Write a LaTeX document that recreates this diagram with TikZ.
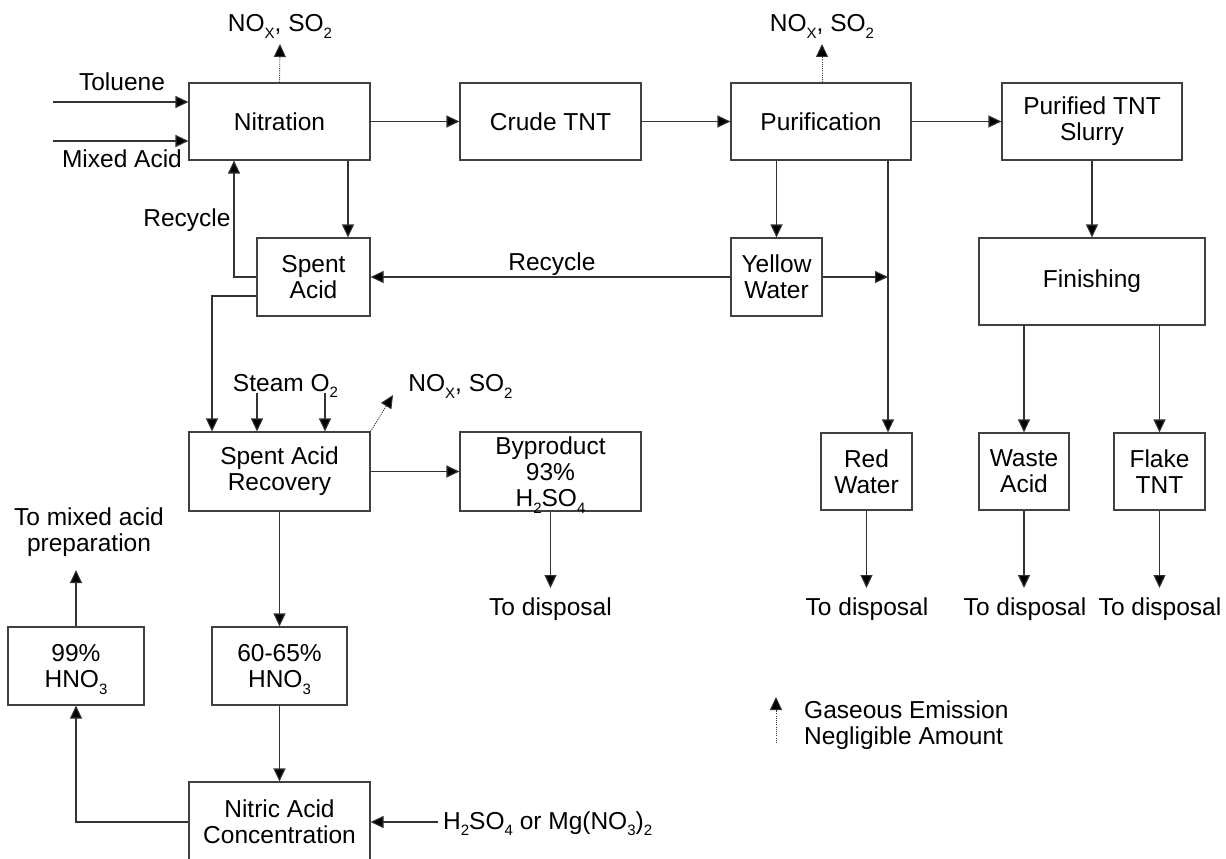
\documentclass[tikz,border=0pt]{standalone}
\usepackage{fontspec}
\setmainfont{Liberation Sans}
\usetikzlibrary{arrows.meta}
\newcommand\sbs[1]{\raisebox{-0.28em}[0pt][0pt]{\fontsize{15}{15}\selectfont #1}}
\begin{document}
\begin{tikzpicture}[x=1pt,y=-1pt,
  font=\fontsize{24.5}{26}\selectfont,
  box/.style={draw=black!75, line width=1.1pt, align=center, inner sep=0pt},
  sz/.style 2 args={minimum width=#1pt, minimum height=#2pt},
  arr/.style={draw=black!80, line width=1.1pt, -{Triangle[length=13pt,width=12pt,fill=black]}},
  emis/.style={draw=black!80, line width=0.9pt, dash pattern=on 1pt off 1.2pt, -{Triangle[length=13pt,width=12pt,fill=black]}},
  lbl/.style={inner sep=0pt, align=center}]
\clip (0,0) rectangle (1226,859);
\fill[white] (0,0) rectangle (1226,859);

% boxes
\node[box,sz={181}{77}] (nit) at (279.5,121.5) {Nitration};
\node[box,sz={181}{77}] (crude) at (550.5,121.5) {Crude TNT};
\node[box,sz={180}{77}] (pur) at (821,121.5) {Purification};
\node[box,sz={180}{77}] (slurry) at (1092,121.5) {Purified TNT\\Slurry};
\node[box,sz={113}{78}] (spent) at (313.5,277) {Spent\\Acid};
\node[box,sz={91}{78}] (yellow) at (776.5,277) {Yellow\\Water};
\node[box,sz={226}{87}] (finish) at (1092,281.5) {Finishing};
\node[box,sz={181}{79}] (sar) at (279.5,471.5) {Spent Acid\\Recovery};
\node[box,sz={181}{79}] (byp) at (550.5,471.5) {Byproduct\\93\%\\H\sbs{2}SO\sbs{4}};
\node[box,sz={91}{77}] (red) at (866.5,471.5) {Red\\Water};
\node[box,sz={90}{77}] (waste) at (1024,471.5) {Waste\\Acid};
\node[box,sz={91}{77}] (flake) at (1159.5,471.5) {Flake\\TNT};
\node[box,sz={135}{78}] (h6065) at (279.5,666) {60-65\%\\HNO\sbs{3}};
\node[box,sz={136}{78}] (h99) at (76,666) {99\%\\HNO\sbs{3}};
\node[box,sz={181}{80}] (nac) at (279.5,822) {Nitric Acid\\Concentration};

% labels
\node[lbl] (tol) at (122,82) {Toluene};
\node[lbl] (mix) at (122,159) {Mixed Acid};
\node[lbl] (rec1) at (187,220.5) {Recycle};
\node[lbl] (rec2) at (552,264) {Recycle};
\node[lbl,anchor=base] (nox1) at (280,32) {NO\sbs{X}, SO\sbs{2}};
\node[lbl,anchor=base] (nox2) at (822,32) {NO\sbs{X}, SO\sbs{2}};
\node[lbl,anchor=base] (steam) at (285.5,391) {Steam O\sbs{2}};
\node[lbl,anchor=base] (nox3) at (460.5,391.5) {NO\sbs{X}, SO\sbs{2}};
\node[lbl,anchor=base] (dis1) at (550.5,615.6) {To disposal};
\node[lbl,anchor=base] (dis2) at (867,615.6) {To disposal};
\node[lbl,anchor=base] (dis3) at (1025,615.6) {To disposal};
\node[lbl,anchor=base] (dis4) at (1160,615.6) {To disposal};
\node[lbl] (mixprep) at (89,532) {To mixed acid\\preparation};
\node[lbl,anchor=base west] (addit) at (443,829) {H\sbs{2}SO\sbs{4} or Mg(NO\sbs{3})\sbs{2}};
\node[lbl,anchor=west,align=left] (legend) at (804,725.4) {Gaseous Emission\\Negligible Amount};

% free ends
\coordinate (tolS) at (53,102);
\coordinate (mixS) at (53,141);
\coordinate (e1) at (280,44);
\coordinate (e2) at (822,44);
\coordinate (e3) at (393,395);
\coordinate (c348) at (348,0);
\coordinate (c234) at (234,0);
\coordinate (c888) at (888,0);
\coordinate (c212) at (212,296);
\coordinate (st1) at (257,393);
\coordinate (st2) at (325,393);
\coordinate (dE1) at (550.5,588);
\coordinate (dE2) at (866.5,588);
\coordinate (dE3) at (1024,588);
\coordinate (dE4) at (1159.5,588);
\coordinate (upE) at (76,570);
\coordinate (hs) at (438,822);
\coordinate (lg1) at (776,743);
\coordinate (lg2) at (776,697);

% connectors
\draw[arr] (tolS) -- (tolS -| nit.west);
\draw[arr] (mixS) -- (mixS -| nit.west);
\draw[emis] (nit.north) -- (e1);
\draw[arr] (nit) -- (crude);
\draw[arr] (crude) -- (pur);
\draw[arr] (pur) -- (slurry);
\draw[emis] (pur.north -| e2) -- (e2);
\draw[arr] (nit.south -| c348) -- (spent.north -| c348);
\draw[arr] (spent.west) -| (nit.south -| c234);
\draw[arr] (yellow) -- (spent);
\draw[arr] (pur.south -| yellow.north) -- (yellow.north);
\draw[arr] (yellow.east) -- (yellow.east -| c888);
\draw[arr] (pur.south -| c888) -- (red.north -| c888);
\draw[arr] (slurry) -- (finish);
\draw[arr] (finish.south -| waste.north) -- (waste.north);
\draw[arr] (finish.south -| flake.north) -- (flake.north);
\draw[arr] (spent.west |- c212) -| (sar.north -| c212);
\draw[arr] (st1) -- (st1 |- sar.north);
\draw[arr] (st2) -- (st2 |- sar.north);
\draw[emis] (sar.north east) -- (e3);
\draw[arr] (sar) -- (byp);
\draw[arr] (byp.south) -- (dE1);
\draw[arr] (red.south) -- (dE2);
\draw[arr] (waste.south) -- (dE3);
\draw[arr] (flake.south) -- (dE4);
\draw[arr] (sar) -- (h6065);
\draw[arr] (h6065) -- (nac);
\draw[arr] (nac.west) -| (h99.south);
\draw[arr] (h99.north) -- (upE);
\draw[arr] (hs) -- (nac.east);
\draw[emis] (lg1) -- (lg2);
\end{tikzpicture}
\end{document}
